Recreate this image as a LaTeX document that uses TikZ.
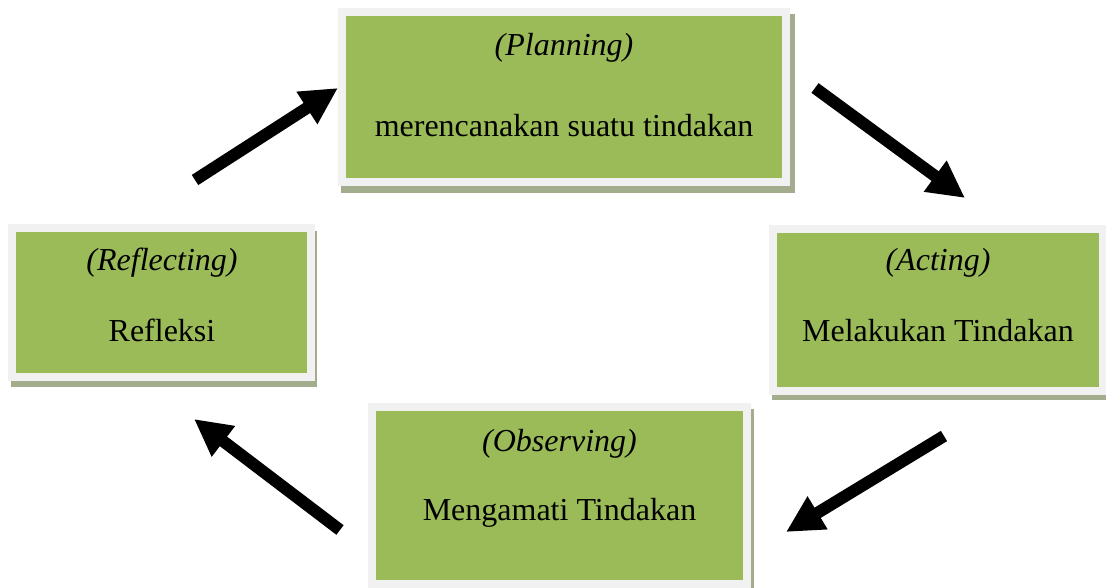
\documentclass[tikz,border=0pt]{standalone}
\usepackage{fontspec}
\setmainfont{Liberation Serif}
\usetikzlibrary{arrows.meta}
\definecolor{boxgreen}{HTML}{9BBB59}
\definecolor{boxrim}{HTML}{F1F1F1}
\definecolor{boxshadow}{HTML}{A3AC8C}
\tikzset{
  stagebox/.style={draw=boxrim, line width=8pt, fill=boxgreen, inner sep=0pt},
  lbl/.style={anchor=base, inner sep=0pt, font=\fontsize{32}{34}\selectfont},
  bigarrow/.style={line width=12pt, -{Triangle[width=36pt,length=37pt]}}
}
\begin{document}
\begin{tikzpicture}[x=1pt,y=-1pt]
\useasboundingbox (0,0) rectangle (1106,588);
% shadows
\fill[boxshadow] (341,14) rectangle (795,193);
\fill[boxshadow] (11,231) rectangle (317,387);
\fill[boxshadow] (772,231) rectangle (1110,400);
\fill[boxshadow] (371,409) rectangle (754,594);
% boxes
\node[stagebox, minimum width=444pt, minimum height=170pt] (plan) at (564,97) {};
\node[stagebox, minimum width=299pt, minimum height=149pt] (refl) at (161.5,302.5) {};
\node[stagebox, minimum width=330pt, minimum height=162pt] (act) at (938,310) {};
\node[stagebox, minimum width=375pt, minimum height=177pt] (obs) at (559.5,495.5) {};
% labels
\node[lbl] (planA) at (564,56) {\textit{(Planning)}};
\node[lbl] (planB) at (564,137) {merencanakan suatu tindakan};
\node[lbl] (reflA) at (162,271) {\textit{(Reflecting)}};
\node[lbl] (reflB) at (162,341) {Refleksi};
\node[lbl] (actA) at (938,271) {\textit{(Acting)}};
\node[lbl] (actB) at (938,341) {Melakukan Tindakan};
\node[lbl] (obsA) at (559.5,451) {\textit{(Observing)}};
\node[lbl] (obsB) at (559.5,520) {Mengamati Tindakan};
% arrows
\coordinate (a1s) at (195,180); \coordinate (a1e) at (338,88);
\coordinate (a2s) at (815,88);  \coordinate (a2e) at (965,198);
\coordinate (a3s) at (944,436); \coordinate (a3e) at (786,532);
\coordinate (a4s) at (340,530); \coordinate (a4e) at (194,419);
\draw[bigarrow] (a1s) -- (a1e);
\draw[bigarrow] (a2s) -- (a2e);
\draw[bigarrow] (a3s) -- (a3e);
\draw[bigarrow] (a4s) -- (a4e);
\end{tikzpicture}
\end{document}
